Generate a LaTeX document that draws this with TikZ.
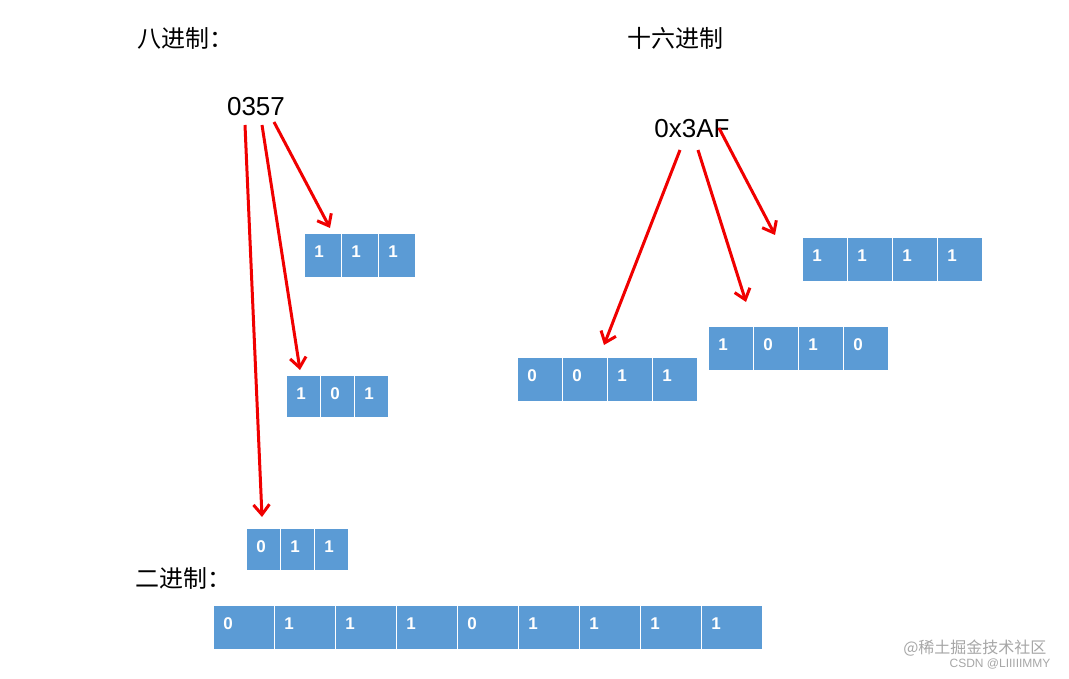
\documentclass[tikz,border=0pt]{standalone}
\usepackage{fontspec}
\setmainfont{Liberation Sans}
\newfontfamily\cjk{Noto Sans CJK SC}
\usetikzlibrary{arrows.meta}
\definecolor{cellblue}{RGB}{91,155,213}
\definecolor{arrred}{RGB}{240,0,0}
\begin{document}
\begin{tikzpicture}[x=1pt,y=-1pt,
  cell/.style={fill=cellblue, draw=white, line width=1pt, inner sep=0pt, anchor=north west},
  digit/.style={text=white, font=\bfseries\fontsize{17}{17}\selectfont, inner sep=0pt},
  red arrow/.style={draw=arrred, line width=3pt, -{Straight Barb[length=10pt,width=16pt,line width=3pt]}},
  title/.style={font=\cjk\fontsize{24}{24}\selectfont, anchor=west},
  num/.style={font=\fontsize{26}{26}\selectfont}]
\useasboundingbox (0,0) rectangle (1069,679);
\newcommand\cellrow[6]{% name, x0, y0, w, h, list
  \foreach \v [count=\i] in {#6} {
    \node[cell, minimum width=#4pt, minimum height=#5pt] (#1\i) at ({#2+(\i-1)*#4},#3) {};
    \node[digit] (#1l\i) at ({#2+(\i-1)*#4+15},{#3+19}) {\v};
  }}
\cellrow{oa}{304}{233}{37}{44}{1,1,1}
\cellrow{ob}{286}{375}{34}{42}{1,0,1}
\cellrow{oc}{246}{528}{34}{42}{0,1,1}
\cellrow{ha}{517}{357}{45}{44}{0,0,1,1}
\cellrow{hb}{708}{326}{45}{44}{1,0,1,0}
\cellrow{hc}{802}{237}{45}{44}{1,1,1,1}
\cellrow{bn}{213}{605}{61}{44}{0,1,1,1,0,1,1,1,1}
\node[title] (t8) at (134,38) {八进制：};
\node[title] (t16) at (624,38) {十六进制};
\node[title] (t2) at (132,578) {二进制：};
\node[num] (n8) at (256,107) {0357};
\node[num] (n16) at (692,129) {0x3AF};
\coordinate (s1) at (274,122); \coordinate (e1) at (330,228);
\coordinate (s2) at (262,125); \coordinate (e2) at (300,370);
\coordinate (s3) at (245,125); \coordinate (e3) at (262,517);
\coordinate (s4) at (680,150); \coordinate (e4) at (604,345);
\coordinate (s5) at (698,150); \coordinate (e5) at (746,302);
\coordinate (s6) at (719,128); \coordinate (e6) at (775,235);
\foreach \k in {1,...,6} \draw[red arrow] (s\k) -- (e\k);
\node[font=\cjk\fontsize{16}{16}\selectfont, text=gray!70, anchor=east] (wm1) at (1050,648) {@稀土掘金技术社区};
\node[font=\fontsize{12}{12}\selectfont, text=gray!70, anchor=east] (wm2) at (1054,664) {CSDN @LIIIIIMMY};
\end{tikzpicture}
\end{document}
